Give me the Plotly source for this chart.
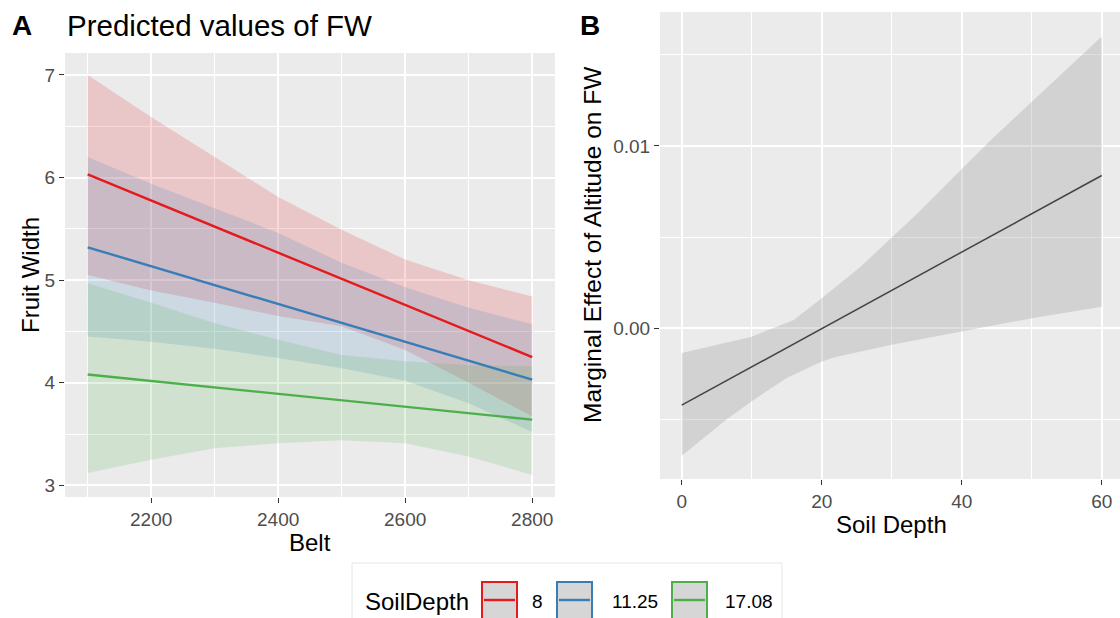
import plotly.graph_objects as go

# ---- Panel A: predicted fruit width across altitude belts ----
belt = [2100, 2200, 2300, 2400, 2500, 2600, 2700, 2800]
belt_ends = [2100, 2800]

soil_levels = ["8", "11.25", "17.08"]
level_colors = ["#E41A1C", "#377EB8", "#4DAF4A"]
level_fills = ["rgba(228,26,28,0.17)", "rgba(55,126,184,0.17)", "rgba(77,175,74,0.17)"]

fw_fit_8 = [6.03, 4.25]
fw_fit_1125 = [5.32, 4.03]
fw_fit_1708 = [4.08, 3.64]

fw_high_8 = [7.00, 6.59, 6.20, 5.81, 5.49, 5.20, 5.00, 4.84]
fw_low_8 = [5.05, 4.90, 4.78, 4.65, 4.55, 4.32, 4.00, 3.67]
fw_high_1125 = [6.20, 5.94, 5.70, 5.46, 5.17, 4.93, 4.73, 4.57]
fw_low_1125 = [4.45, 4.40, 4.33, 4.24, 4.14, 4.02, 3.80, 3.52]
fw_high_1708 = [4.97, 4.78, 4.58, 4.42, 4.27, 4.21, 4.17, 4.16]
fw_low_1708 = [3.12, 3.25, 3.36, 3.41, 3.44, 3.41, 3.28, 3.10]

# ---- Panel B: marginal effect of altitude vs soil depth ----
depth_line = [0, 60]
effect_line = [-0.00422, 0.00838]
depth_high = [0, 10, 16, 20, 25.5, 33.6, 40, 44.5, 60]
effect_high = [-0.00136, -0.00046, 0.00045, 0.00164, 0.00336, 0.00627, 0.00873, 0.01045, 0.0160]
depth_low = [0, 6.4, 10, 15, 20, 22, 30, 40, 50, 60]
effect_low = [-0.0070, -0.0050, -0.0040, -0.00273, -0.00182, -0.00158, -0.00091, -0.00018, 0.00055, 0.00118]

FONT = "Liberation Sans, Arial, sans-serif"
W, H = 1120, 618


def px(x):
    return x / W


def py(y):
    return 1 - y / H


fig = go.Figure()

fits = [fw_fit_8, fw_fit_1125, fw_fit_1708]
highs = [fw_high_8, fw_high_1125, fw_high_1708]
lows = [fw_low_8, fw_low_1125, fw_low_1708]

for hi, lo, fill in zip(highs, lows, level_fills):
    fig.add_trace(go.Scatter(
        x=belt + belt[::-1], y=hi + lo[::-1], fill="toself", fillcolor=fill,
        line=dict(width=0), mode="lines", hoverinfo="skip", showlegend=False,
        xaxis="x", yaxis="y"))

for fv, col in zip(fits, level_colors):
    fig.add_trace(go.Scatter(
        x=belt_ends, y=fv, mode="lines", line=dict(color=col, width=2.4),
        showlegend=False, xaxis="x", yaxis="y"))

fig.add_trace(go.Scatter(
    x=depth_high + depth_low[::-1], y=effect_high + effect_low[::-1],
    fill="toself", fillcolor="rgba(153,153,153,0.3)", line=dict(width=0),
    mode="lines", hoverinfo="skip", showlegend=False, xaxis="x2", yaxis="y2"))
fig.add_trace(go.Scatter(
    x=depth_line, y=effect_line, mode="lines", line=dict(color="#444444", width=1.5),
    showlegend=False, xaxis="x2", yaxis="y2"))

axis_common = dict(
    showline=False, zeroline=False, showgrid=True, gridcolor="white", gridwidth=1.8,
    ticks="outside", ticklen=5, tickwidth=1.2, tickcolor="#333333",
    tickfont=dict(family=FONT, size=19, color="#4D4D4D"),
)

fig.update_layout(
    width=W, height=H,
    margin=dict(l=0, r=0, t=0, b=0),
    paper_bgcolor="white", plot_bgcolor="#EBEBEB",
    xaxis=dict(domain=[px(65), px(555)], range=[2064.3, 2835.9], anchor="y",
               tick0=2200, dtick=200,
               minor=dict(tick0=2100, dtick=100, showgrid=True, gridcolor="white", gridwidth=0.9, ticks=""),
               **axis_common),
    yaxis=dict(domain=[py(497), py(53)], range=[2.886, 7.214], anchor="x",
               tick0=3, dtick=1,
               minor=dict(tick0=3.5, dtick=0.5, showgrid=True, gridcolor="white", gridwidth=0.9, ticks=""),
               **axis_common),
    xaxis2=dict(domain=[px(660), 1.0], range=[-3.1, 62.61], anchor="y2",
                tick0=0, dtick=20,
                minor=dict(tick0=10, dtick=10, showgrid=True, gridcolor="white", gridwidth=0.9, ticks=""),
                **axis_common),
    yaxis2=dict(domain=[py(479), py(12)], range=[-0.00827, 0.01735], anchor="x2",
                tick0=0, dtick=0.01, tickformat=".2f",
                minor=dict(tick0=0.005, dtick=0.005, showgrid=True, gridcolor="white", gridwidth=0.9, ticks=""),
                **axis_common),
)

ann = []


def text(x, y, s, size, color="black", bold=False, angle=0, xanchor="center"):
    ann.append(dict(
        x=px(x), y=py(y), xref="paper", yref="paper", text=f"<b>{s}</b>" if bold else s,
        showarrow=False, textangle=angle, xanchor=xanchor, yanchor="middle",
        font=dict(family=FONT, size=size, color=color)))


text(22, 25, "A", 28, bold=True)
text(65, 25, "Predicted values of FW", 29.5, xanchor="left")
text(590, 25, "B", 28, bold=True)
text(30, 275, "Fruit Width", 24, angle=-90)
text(310, 542, "Belt", 24)
text(891, 524, "Soil Depth", 24)
text(592, 245, "Marginal Effect of Altitude on FW", 24.5, angle=-90)

# legend for the SoilDepth levels
text(363, 601, "SoilDepth", 24, xanchor="left")
shapes = [dict(type="rect", xref="paper", yref="paper",
               x0=px(352), x1=px(782), y0=py(625), y1=py(563),
               line=dict(color="#E6E6E6", width=1), fillcolor="rgba(0,0,0,0)", layer="below")]
key_left = [482, 557, 672]
label_left = [530, 610, 723]
for i, lab in enumerate(soil_levels):
    x0 = key_left[i]
    shapes.append(dict(type="rect", xref="paper", yref="paper",
                       x0=px(x0), x1=px(x0 + 35), y0=py(622), y1=py(582),
                       line=dict(color=level_colors[i], width=2), fillcolor="#D6D6D6"))
    shapes.append(dict(type="line", xref="paper", yref="paper",
                       x0=px(x0 + 2), x1=px(x0 + 33), y0=py(600), y1=py(600),
                       line=dict(color=level_colors[i], width=2.4)))
    text(label_left[i], 601, lab, 19, xanchor="left")

fig.update_layout(annotations=ann, shapes=shapes)
fig.write_html("out.html")
